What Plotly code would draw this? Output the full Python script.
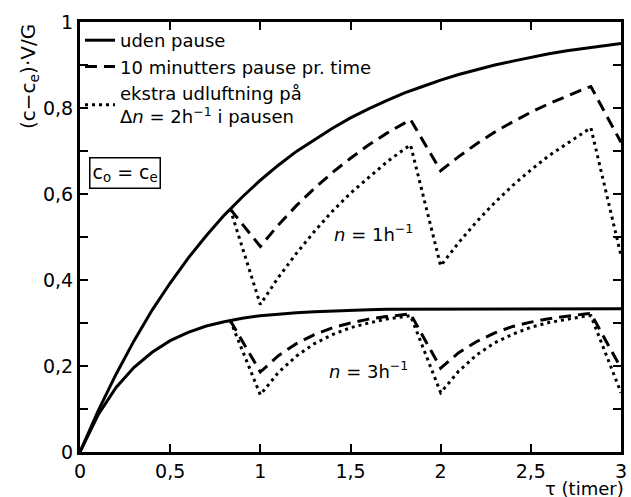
import plotly.graph_objects as go

# Time (hours) and read values, no pause
t_cont = [0, 0.1, 0.2, 0.3, 0.4, 0.5, 0.6, 0.7, 0.8, 0.9, 1.0, 1.1, 1.2, 1.3, 1.4, 1.5,
          1.6, 1.7, 1.8, 1.9, 2.0, 2.1, 2.2, 2.3, 2.4, 2.5, 2.6, 2.7, 2.8, 2.9, 3.0]
y_n1_cont = [0, 0.095, 0.181, 0.259, 0.330, 0.393, 0.451, 0.503, 0.551, 0.593, 0.632,
             0.667, 0.699, 0.727, 0.753, 0.777, 0.798, 0.817, 0.835, 0.850, 0.865,
             0.878, 0.889, 0.900, 0.909, 0.918, 0.926, 0.933, 0.939, 0.945, 0.950]
y_n3_cont = [0, 0.086, 0.150, 0.197, 0.232, 0.259, 0.278, 0.293, 0.303, 0.311, 0.317,
             0.321, 0.324, 0.326, 0.328, 0.330, 0.331, 0.332, 0.332, 0.333, 0.333,
             0.333, 0.333, 0.333, 0.333, 0.333, 0.333, 0.333, 0.333, 0.333, 0.333]

# Time points for pause curves
t_pause = [0.833, 1.0, 1.1, 1.2, 1.3, 1.4, 1.5, 1.6, 1.7, 1.8, 1.833,
           2.0, 2.1, 2.2, 2.3, 2.4, 2.5, 2.6, 2.7, 2.8, 2.833, 3.0]
y_n1_pause = [0.565, 0.478, 0.528, 0.573, 0.613, 0.650, 0.683, 0.714, 0.741, 0.765, 0.773,
              0.654, 0.687, 0.717, 0.744, 0.768, 0.790, 0.810, 0.828, 0.845, 0.850, 0.720]
y_n1_extra = [0.565, 0.343, 0.406, 0.462, 0.513, 0.560, 0.602, 0.639, 0.674, 0.705, 0.714,
              0.433, 0.487, 0.536, 0.580, 0.620, 0.656, 0.689, 0.718, 0.745, 0.754, 0.457]
y_n3_pause = [0.306, 0.186, 0.224, 0.252, 0.273, 0.289, 0.300, 0.309, 0.315, 0.320, 0.321,
              0.195, 0.231, 0.257, 0.277, 0.292, 0.302, 0.310, 0.316, 0.321, 0.322, 0.195]
y_n3_extra = [0.306, 0.133, 0.185, 0.223, 0.252, 0.273, 0.289, 0.300, 0.309, 0.315, 0.317,
              0.138, 0.188, 0.226, 0.254, 0.274, 0.290, 0.301, 0.309, 0.316, 0.317, 0.138]

x_ticks = [0, 0.5, 1, 1.5, 2, 2.5, 3]
x_labels = ["0", "0,5", "1", "1,5", "2", "2,5", "3"]
y_ticks = [0, 0.2, 0.4, 0.6, 0.8, 1]
y_labels = ["0", "0,2", "0,4", "0,6", "0,8", "1"]

names = ["uden pause", "10 minutters pause pr. time",
         "ekstra udluftning på<br>Δ<i>n</i> = 2h<sup>−1</sup> i pausen"]

FONT = "DejaVu Sans"
fig = go.Figure()

solid = dict(color="black", width=3)
dashed = dict(color="black", width=3, dash="12px,7px")
dotted = dict(color="black", width=3, dash="3px,4px")

fig.add_trace(go.Scatter(x=t_cont, y=y_n1_cont, mode="lines", line=solid, name=names[0], legendrank=1))
fig.add_trace(go.Scatter(x=t_cont, y=y_n3_cont, mode="lines", line=solid, showlegend=False))
fig.add_trace(go.Scatter(x=t_pause, y=y_n1_pause, mode="lines", line=dashed, name=names[1], legendrank=2))
fig.add_trace(go.Scatter(x=t_pause, y=y_n3_pause, mode="lines", line=dashed, showlegend=False))
fig.add_trace(go.Scatter(x=t_pause, y=y_n1_extra, mode="lines", line=dotted, name=names[2], legendrank=3))
fig.add_trace(go.Scatter(x=t_pause, y=y_n3_extra, mode="lines", line=dotted, showlegend=False))

axis_common = dict(showline=True, linecolor="black", linewidth=3, mirror="allticks",
                   ticks="inside", ticklen=8, tickwidth=1.5, tickcolor="black",
                   showgrid=False, zeroline=False, ticklabeloverflow="allow",
                   tickfont=dict(family=FONT, size=19, color="black"))

fig.update_xaxes(range=[0, 3], tickvals=x_ticks, ticktext=x_labels, ticklabelstandoff=0,
                 **axis_common)
fig.update_yaxes(range=[0, 1], tickvals=y_ticks, ticktext=y_labels, ticklabelstandoff=0,
                 minor=dict(dtick=0.1, ticks="inside", ticklen=8, tickwidth=1.5, tickcolor="black"),
                 **axis_common)

fig.add_annotation(x=1.63, y=0.51, xref="x", yref="y", text="<i>n</i> = 1h<sup>−1</sup>",
                   showarrow=False, font=dict(family=FONT, size=18, color="black"))
fig.add_annotation(x=1.60, y=0.19, xref="x", yref="y", text="<i>n</i> = 3h<sup>−1</sup>",
                   showarrow=False, font=dict(family=FONT, size=18, color="black"))
fig.add_annotation(x=0.05, y=0.65, xref="x", yref="y", xanchor="left",
                   text="c<sub>o</sub> = c<sub>e</sub>", showarrow=False,
                   bordercolor="black", borderwidth=1.5, borderpad=2,
                   font=dict(family=FONT, size=19, color="black"))
fig.add_annotation(x=-0.095, y=1.0, xref="paper", yref="paper", xanchor="center", yanchor="top",
                   textangle=-90, text="(c−c<sub>e</sub>)·V/G", showarrow=False,
                   font=dict(family=FONT, size=20, color="black"))
fig.add_annotation(x=1.0, y=-0.111, xref="paper", yref="paper", xanchor="right", yanchor="bottom",
                   xshift=4, text="τ (timer)", showarrow=False, borderpad=0,
                   font=dict(family=FONT, size=18, color="black"))

fig.update_layout(
    width=631, height=497,
    margin=dict(l=80, r=4, t=22, b=45),
    plot_bgcolor="white", paper_bgcolor="white",
    showlegend=True,
    legend=dict(x=0.0, y=1.0, xanchor="left", yanchor="top",
                bgcolor="rgba(0,0,0,0)", borderwidth=0, itemwidth=30,
                tracegroupgap=0,
                font=dict(family=FONT, size=18, color="black")),
)

fig.write_html(
    "out.html",
    config={"displayModeBar": False},
    post_script="document.body.style.margin='0px';document.body.style.overflow='hidden';",
)
